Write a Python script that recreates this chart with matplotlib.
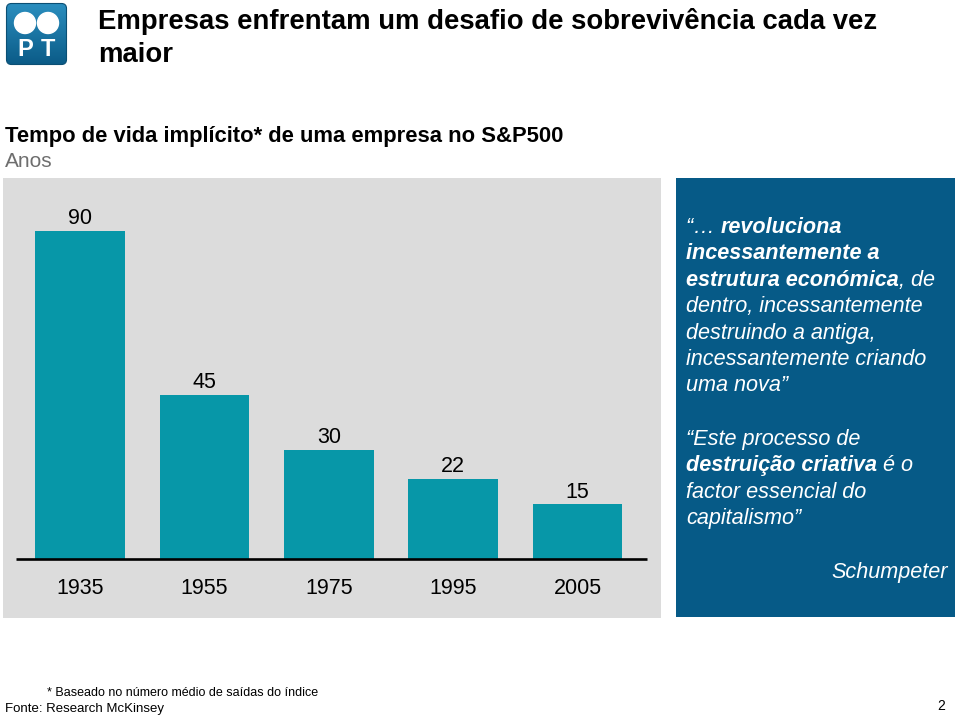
import matplotlib

matplotlib.use("Agg")
import matplotlib.pyplot as plt
import numpy as np
from matplotlib.patches import FancyBboxPatch, Circle, Rectangle

W, H = 960, 716

years = ["1935", "1955", "1975", "1995", "2005"]
lifespan = [90, 45, 30, 22, 15]

title_lines = ["Empresas enfrentam um desafio de sobrevivência cada vez", "maior"]
subtitle = "Tempo de vida implícito* de uma empresa no S&P500"
unit = "Anos"

# quote lines: list of (text, bold) runs
quote_lines = [
    [("“… ", False), ("revoluciona", True)],
    [("incessantemente a", True)],
    [("estrutura económica", True), (", de", False)],
    [("dentro, incessantemente", False)],
    [("destruindo a antiga,", False)],
    [("incessantemente criando", False)],
    [("uma nova”", False)],
]
quote_lines_2 = [
    [("“Este processo de", False)],
    [("destruição criativa", True), (" é o", False)],
    [("factor essencial do", False)],
    [("capitalismo”", False)],
]
author = "Schumpeter"
footnote = "* Baseado no número médio de saídas do índice"
source = "Fonte: Research McKinsey"
page = "2"

BAR = "#0797a8"
PANEL = "#dcdcdc"
BOX = "#065a87"

plt.rcParams["font.family"] = ["Liberation Sans", "DejaVu Sans"]

fig = plt.figure(figsize=(W / 100, H / 100), dpi=100)
renderer = fig.canvas.get_renderer()


def fx(x):
    return x / W


def fy(y):
    return 1 - y / H


# --- logo ---
lax = fig.add_axes([fx(5), fy(66), 63 / W, 64 / H])
lax.set_xlim(0, 63)
lax.set_ylim(0, 64)
lax.axis("off")
logo = FancyBboxPatch((1.5, 1.5), 60, 61, boxstyle="round,pad=0,rounding_size=5",
                      facecolor="none", edgecolor="#0b4f74", linewidth=0.8)
lax.add_patch(logo)
grad = np.linspace(0, 1, 64).reshape(-1, 1)
img = lax.imshow(grad, extent=(0, 63, 0, 64), origin="lower",
                 cmap=matplotlib.colors.LinearSegmentedColormap.from_list("pt", ["#0a5a86", "#2b8fc0"]))
img.set_clip_path(logo)
lax.add_patch(Circle((20, 43), 10.5, color="white"))
lax.add_patch(Circle((43, 43), 10.5, color="white"))
lax.text(20, 17, "P", color="white", weight="bold", fontsize=17, ha="center", va="center")
lax.text(43, 17, "T", color="white", weight="bold", fontsize=17, ha="center", va="center")

# --- titles ---
for i, line in enumerate(title_lines):
    fig.text(fx(98), fy(29 + i * 33), line, fontsize=19.8, weight="bold", ha="left", va="baseline")
fig.text(fx(5), fy(142), subtitle, fontsize=15.8, weight="bold", ha="left", va="baseline")
fig.text(fx(5), fy(167), unit, fontsize=15, color="#6e6e6e", ha="left", va="baseline")

# --- bar chart ---
px_per_unit = 3.65
spacing = 124.4
x0, x1, y_top, y_bot, base = 3, 661, 178, 618, 559
ax = fig.add_axes([fx(x0), fy(y_bot), (x1 - x0) / W, (y_bot - y_top) / H])
ax.set_facecolor(PANEL)
ax.set_xlim((x0 - 80) / spacing, (x1 - 80) / spacing)
ax.set_ylim((base - y_bot) / px_per_unit, (base - y_top) / px_per_unit)
pos = np.arange(len(years))
ax.bar(pos, lifespan, width=0.72, color=BAR, zorder=2)
ax.plot([(16 - 80) / spacing, (647 - 80) / spacing], [0, 0], color="black", lw=1.9, zorder=3,
        solid_capstyle="butt")
for p, v in zip(pos, lifespan):
    ax.annotate(str(v), (p, v), xytext=(0, 4.5), textcoords="offset points",
                ha="center", va="baseline", fontsize=15.5)
for p, yr in zip(pos, years):
    ax.text(p, -(594 - base) / px_per_unit, yr, ha="center", va="baseline", fontsize=15.5)
for s in ax.spines.values():
    s.set_visible(False)
ax.set_xticks([])
ax.set_yticks([])

# --- quote box ---
fig.patches.append(Rectangle((fx(676), fy(617)), (955 - 676) / W, (617 - 178) / H,
                             transform=fig.transFigure, facecolor=BOX, edgecolor="none"))


def draw_runs(x, y, runs, size=15.6):
    for text, bold in runs:
        t = fig.text(fx(x), fy(y), text, fontsize=size, style="italic", color="white",
                     weight="bold" if bold else "normal", ha="left", va="baseline")
        x += t.get_window_extent(renderer).width


for i, runs in enumerate(quote_lines):
    draw_runs(686, 233 + i * 26.4, runs)
for i, runs in enumerate(quote_lines_2):
    draw_runs(686, 445 + i * 26.4, runs)
fig.text(fx(948), fy(578), author, fontsize=15.6, style="italic", color="white",
         ha="right", va="baseline")

# --- footer ---
fig.text(fx(47), fy(696), footnote, fontsize=9, ha="left", va="baseline")
fig.text(fx(5), fy(712), source, fontsize=9.5, ha="left", va="baseline")
fig.text(fx(937), fy(710), page, fontsize=10, ha="left", va="baseline")

fig.savefig("out.png", dpi=100)
